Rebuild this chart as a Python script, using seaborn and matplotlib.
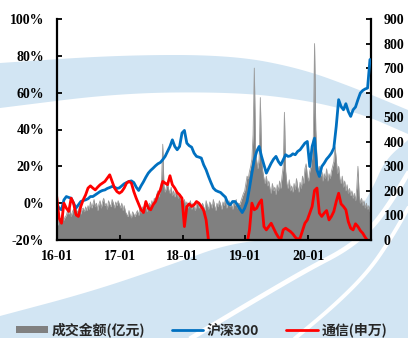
import numpy as np
import pandas as pd
import matplotlib
matplotlib.use("Agg")
import matplotlib.pyplot as plt
import matplotlib.dates as mdates
import seaborn as sns
from matplotlib.path import Path
from matplotlib.patches import PathPatch, Patch
from matplotlib.lines import Line2D
from matplotlib.ticker import FuncFormatter, FixedLocator
from matplotlib.transforms import Affine2D
from matplotlib.font_manager import FontProperties

# ---- data -------------------------------------------------------------
# weekly turnover of the telecom sector (亿元), right axis
volume = [
    75, 60, 90, 70, 85, 110, 80, 95, 100,
    120, 105, 130, 95, 115, 125, 100, 135, 110, 120, 140, 105, 125, 130, 115, 135, 120,
    140, 125, 155, 130, 145, 165, 135, 150, 120, 145, 160, 130, 155, 170, 140, 150, 125,
    160, 145, 135, 165, 150, 130, 155, 140, 160,
    145, 130, 150, 120, 140, 115,
    105, 95, 120, 100, 90, 115, 105, 95, 110, 120, 100,
    125, 110, 135, 120, 145, 130, 115, 140, 150, 135, 160, 145, 170, 155,
    185, 200, 175, 210, 240, 390, 220, 195, 215, 230,
    205, 190, 215, 180, 200, 175, 195, 185, 170, 190, 160,
    175, 150, 165, 140, 155, 130, 145, 160, 125, 150, 135, 120, 145, 155, 130, 140, 125,
    150, 135, 120, 160, 140, 125, 155, 145, 130, 165, 140, 120, 150, 135, 160, 145, 125,
    155, 140, 170, 130, 150, 160, 135, 145, 125, 155, 140, 165, 130, 150, 145, 160, 175, 190,
    200, 230, 260, 250, 280, 300, 330, 430, 700, 380,
    320, 290, 330, 580, 340, 280, 250, 230, 260, 220,
    240, 210, 190, 230, 200, 215, 185, 225, 200, 240,
    210, 260, 300, 520, 280, 230, 210, 245, 200, 220,
    195, 230, 205, 250, 215, 195, 235, 210, 260, 230,
    290, 310,
    260, 240, 280, 300, 350, 420, 800, 450, 330, 280,
    300, 260, 280, 240, 270, 250, 290, 240, 270, 250,
    280, 300, 320, 380, 330, 270, 300, 250, 230, 260,
    215, 240, 200, 225, 190, 210, 180, 200, 170, 190,
    160, 210, 300, 180, 150, 170, 140, 160, 130, 150,
    125, 140, 115,
]

# cumulative returns (%), sampled every two weeks, left axis
hs300 = [
    -0.4, -2.7, -3.6, 1.8, 3.6, 3.1, 2.7, 0.0, -2.7, -0.9,
    0.9, 1.4, 1.8, 2.4, 3.6, 3.6, 4.5, 5.4, 6.3, 6.9,
    7.2, 8.0, 8.5, 9.1, 8.7, 8.0, 8.3, 9.4, 10.5, 11.2,
    11.8, 12.1, 11.2, 8.7, 6.9, 9.4, 11.6, 14.1, 16.3, 17.8,
    19.0, 20.3, 21.4, 22.1, 23.6, 25.4, 28.1, 30.8, 34.4, 30.8,
    29.0, 30.8, 38.1, 39.5, 32.6, 31.2, 30.4, 27.2, 25.4, 25.0,
    24.5, 20.8, 18.1, 14.5, 11.2, 8.2, 6.9, 6.3, 5.8, 4.5,
    3.3, 0.0, -0.9, 0.9, 0.9, -0.9, -3.1, -5.1, -2.7, 0.9,
    8.2, 16.3, 23.6, 28.1, 30.8, 25.4, 20.8, 16.3, 19.0, 21.7,
    23.9, 25.4, 22.6, 20.8, 23.6, 26.3, 25.4, 25.7, 26.8, 26.3,
    28.1, 29.0, 30.8, 32.6, 33.5, 19.9, 30.8, 35.3, 18.1, 14.5,
    19.9, 21.7, 23.9, 25.4, 27.2, 29.9, 41.7, 56.2, 52.5, 50.7,
    54.0, 49.8, 47.1, 50.7, 52.2, 56.2, 59.8, 61.2, 62.0, 62.5,
    78.0,
]

telecom = [
    3.6, -8.2, -10.9, 0.0, -2.7, -4.5, 2.7, 0.0, -6.3, -7.2,
    -1.8, 1.8, 4.5, 8.2, 9.4, 8.2, 7.2, 8.7, 10.0, 10.9,
    11.8, 13.6, 15.4, 11.8, 8.2, 6.3, 5.4, 6.3, 8.2, 10.9,
    11.8, 10.9, 6.3, 2.7, -0.4, -3.6, -5.1, 0.9, -2.7, -3.6,
    -0.9, 0.9, 4.5, 7.2, 11.8, 10.9, 10.0, 14.9, 10.0, 8.2,
    5.8, 4.5, 2.7, -12.7, -1.8, -0.4, -1.8, -0.9, 0.9, 0.0,
    -1.8, -4.0, -9.1, -20.3, -23.0, -22.0, -20.5, -21.0, -24.0, -26.0,
    -25.0, -23.0, -26.0, -24.0, -25.0, -23.0, -24.0, -22.0, -23.0, -22.0,
    -14.5, 0.0, -3.6, -2.7, 0.0, 1.8, -12.7, -14.5, -12.7, -10.9,
    -13.6, -16.3, -18.5, -19.6, -14.5, -13.6, -14.5, -15.4, -16.7, -18.5,
    -19.6, -19.0, -14.9, -10.9, -9.1, -5.4, -1.8, 6.9, 8.2, -5.4,
    -7.2, -5.4, -4.0, -9.1, -7.2, -4.5, 0.9, 5.4, -0.4, -1.8,
    -3.6, -10.0, -13.6, -14.5, -11.2, -12.7, -14.9, -16.3, -18.5, -20.3,
    -20.8,
]

x_ticks = ["2016-01-01", "2017-01-01", "2018-01-01", "2019-01-01", "2020-01-01"]
pct_ticks = [-20, 0, 20, 40, 60, 80, 100]
vol_ticks = [0, 100, 200, 300, 400, 500, 600, 700, 800, 900]
labels = ["成交金额(亿元)", "沪深300", "通信(申万)"]

week_dates = pd.date_range("2016-01-01", periods=len(volume), freq="7D")
biweek_dates = pd.date_range("2016-01-01", periods=len(hs300), freq="14D")
vol_df = pd.DataFrame({"date": week_dates, "vol": volume})
ret_df = pd.DataFrame({"date": biweek_dates, "hs300": hs300, "telecom": telecom})

# ---- style ------------------------------------------------------------
sns.set_theme(style="ticks")
plt.rcParams["font.family"] = ["Liberation Serif", "Noto Sans CJK SC"]
plt.rcParams["font.weight"] = "bold"
TICK_FONT = FontProperties(family=["Liberation Serif"], weight="bold", size=10)

GRAY, BLUE, RED = "#808080", "#0070C0", "#FF0000"
BG_BLUE = "#d2e5f3"

W, H = 408, 338
fig = plt.figure(figsize=(W / 100, H / 100), dpi=100)
fig.patch.set_facecolor("white")

# light-blue swoosh decoration in the background (pixel coords, y downwards)
px = Affine2D().scale(1 / W, -1 / H).translate(0, 1) + fig.transFigure


def smooth(points, n=4):
    pts = np.asarray(points, float)
    for _ in range(n):
        q = 0.75 * pts[:-1] + 0.25 * pts[1:]
        r = 0.25 * pts[:-1] + 0.75 * pts[1:]
        mid = np.empty((2 * len(q), 2))
        mid[0::2], mid[1::2] = q, r
        pts = np.vstack([pts[:1], mid, pts[-1:]])
    return pts


def add_shape(top, bottom, color):
    outline = np.vstack([smooth(top), smooth(bottom)])
    fig.add_artist(PathPatch(Path(outline, closed=False), facecolor=color,
                             edgecolor="none", transform=px, zorder=-5))


def add_streak(points, width, color="white"):
    pts = smooth(points)
    fig.add_artist(Line2D(pts[:, 0], pts[:, 1], color=color, lw=width,
                          transform=px, zorder=-4, solid_capstyle="butt"))


add_shape([(0, 63), (120, 55), (230, 55), (300, 68), (360, 90), (408, 110)],
          [(408, 134), (360, 113), (300, 99), (230, 92), (120, 93), (0, 108)], BG_BLUE)
add_shape([(0, 316), (90, 292), (170, 265), (233, 242), (300, 238), (350, 225),
           (372, 190), (385, 160), (408, 140)],
          [(408, 338), (0, 338)], BG_BLUE)
add_streak([(188, 340), (255, 300), (310, 268), (345, 250), (372, 228), (392, 200), (410, 170)], 3.5)
add_streak([(293, 340), (335, 305), (368, 272), (390, 240), (410, 205)], 2.8)
add_streak([(372, 158), (390, 148), (410, 136)], 2.0)

# ---- axes -------------------------------------------------------------
ax = fig.add_axes([56.7 / W, 1 - 240 / H, (371 - 56.7) / W, (240 - 19) / H])
ax2 = ax.twinx()
ax.set_zorder(2)
ax2.set_zorder(1)
ax.patch.set_visible(False)
ax2.patch.set_visible(False)

# turnover area on the right axis
ax2.fill_between(vol_df["date"], 0, vol_df["vol"], color=GRAY, lw=0, zorder=1)
sns.lineplot(data=vol_df, x="date", y="vol", ax=ax2, color="#9a9a9a", lw=0.6, zorder=2)
ax2.set_ylim(0, 900)

# return lines on the left axis
sns.lineplot(data=ret_df, x="date", y="hs300", ax=ax, color=BLUE, lw=2.0)
sns.lineplot(data=ret_df, x="date", y="telecom", ax=ax, color=RED, lw=2.0)
ax.set_ylim(-20, 100)
ax.set_xlim(pd.Timestamp("2016-01-01"), pd.Timestamp("2020-12-31"))

ax.xaxis.set_major_locator(FixedLocator(mdates.date2num(pd.to_datetime(x_ticks))))
ax.xaxis.set_major_formatter(mdates.DateFormatter("%y-%m"))
ax.yaxis.set_major_locator(FixedLocator(pct_ticks))
ax.yaxis.set_major_formatter(FuncFormatter(lambda v, p: f"{v:.0f}%"))
ax2.yaxis.set_major_locator(FixedLocator(vol_ticks))
ax2.yaxis.set_major_formatter(FuncFormatter(lambda v, p: f"{v:.0f}"))

for a in (ax, ax2):
    a.set_xlabel("")
    a.set_ylabel("")
    for s in a.spines.values():
        s.set_color("black")
        s.set_linewidth(1.6)
    a.spines["top"].set_visible(False)
ax.spines["right"].set_visible(False)
ax2.spines["left"].set_visible(False)
ax2.spines["bottom"].set_visible(False)

tick_kw = dict(direction="in", length=3.5, width=1.3, color="black",
               labelcolor="black", labelsize=10)
ax.tick_params(axis="y", pad=9, **tick_kw)
ax.tick_params(axis="x", pad=7, **tick_kw)
ax2.tick_params(axis="y", pad=9, **tick_kw)

fig.canvas.draw()
for t in ax.get_xticklabels() + ax.get_yticklabels() + ax2.get_yticklabels():
    t.set_fontproperties(TICK_FONT)

# ---- legend -------------------------------------------------------------
handles = [
    Patch(facecolor=GRAY, edgecolor="none"),
    Line2D([], [], color=BLUE, lw=2.0),
    Line2D([], [], color=RED, lw=2.0),
]
fig.legend(handles, labels, loc="center", bbox_to_anchor=(0.494, 1 - 330 / H),
           ncol=3, frameon=False, handlelength=2.3, handleheight=0.45,
           handletextpad=0.25, columnspacing=1.9,
           prop=FontProperties(family=["Noto Sans CJK SC"], weight="bold", size=10))

fig.savefig("out.png", dpi=100, facecolor="white")
